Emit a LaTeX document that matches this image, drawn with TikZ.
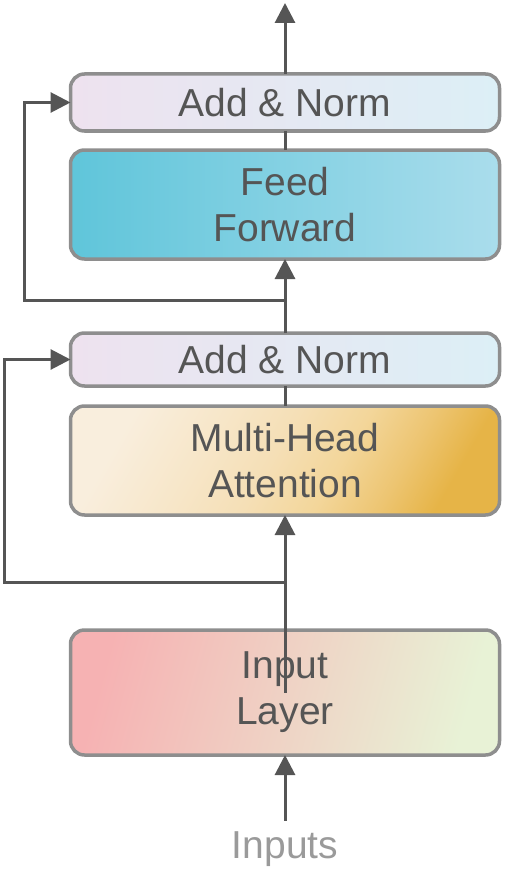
\documentclass[tikz,border=0pt]{standalone}
\usepackage{fontspec}
\setmainfont{Liberation Sans}
\usetikzlibrary{arrows.meta,calc}
\definecolor{txt}{HTML}{555555}
\definecolor{intxt}{HTML}{9A9A9A}
\definecolor{bord}{HTML}{8E8E8E}
\definecolor{arrc}{HTML}{555555}
\definecolor{anL}{HTML}{EEE2EF}
\definecolor{anR}{HTML}{DCEFF6}
\definecolor{ffL}{HTML}{5FC5DA}
\definecolor{ffR}{HTML}{AADDEC}
\definecolor{mhA}{HTML}{E6B447}
\definecolor{mhB}{HTML}{EDC572}
\definecolor{mhC}{HTML}{F3D69A}
\definecolor{mhD}{HTML}{F5DFB6}
\definecolor{mhE}{HTML}{F7E6C8}
\definecolor{mhF}{HTML}{F9EEDD}
\definecolor{ilL}{HTML}{F6B2B3}
\definecolor{ilM}{HTML}{F4E6CE}
\definecolor{ilR}{HTML}{E8F2D6}
\pgfdeclareverticalshading{mhashade}{100bp}{color(0bp)=(mhA); color(25bp)=(mhA); color(33bp)=(mhB); color(42bp)=(mhC); color(52bp)=(mhD); color(62bp)=(mhE); color(75bp)=(mhF); color(100bp)=(mhF)}
\tikzset{
  blk/.style={draw=bord, line width=3.5pt, rounded corners=14pt,
    minimum width=429pt, inner sep=0pt, outer sep=0pt, align=center,
    text=txt, font=\fontsize{39}{46}\selectfont},
  arr/.style={draw=arrc, line width=3pt, -{Triangle[width=20pt,length=20pt]}},
  lnk/.style={draw=arrc, line width=3pt}
}
\begin{document}
\begin{tikzpicture}[x=1pt,y=1pt]
\useasboundingbox (0,0) rectangle (505,-872);
\node[blk, minimum height=57pt, left color=anL, right color=anR] (an1) at (285,-102.5) {Add \& Norm};
\node[blk, minimum height=109pt, left color=ffL, right color=ffR] (ff) at (285,-204.5) {Feed\\Forward};
\node[blk, minimum height=53pt, left color=anL, right color=anR] (an2) at (285,-359.5) {Add \& Norm};
\node[blk, minimum height=109pt, shading=mhashade, shading angle=60] (mha) at (285,-460.5) {Multi-Head\\Attention};
\node[blk, minimum height=125pt, left color=ilL, middle color=ilM, right color=ilR, shading angle=75] (il) at (285,-692.5) {Input\\Layer};
\node[anchor=base, inner sep=10pt, text=intxt, font=\fontsize{39}{46}\selectfont] (inp) at (285,-858) {Inputs};
\coordinate (out) at (285,-3);
\coordinate (j1) at (285,-300);
\coordinate (j2) at (285,-582);
% main flow
\draw[arr] (inp.north) -- (il.south);
\draw[arr] (il.center) -- (mha.south);
\draw[lnk] (mha.north) -- (an2.south);
\draw[arr] (an2.north) -- (ff.south);
\draw[lnk] (ff.north) -- (an1.south);
\draw[arr] (an1.north) -- (out);
% residuals
\draw[arr] (j2) -- ++(-281,0) |- (an2.west);
\draw[arr] (j1) -- ++(-261,0) |- (an1.west);
\end{tikzpicture}
\end{document}
